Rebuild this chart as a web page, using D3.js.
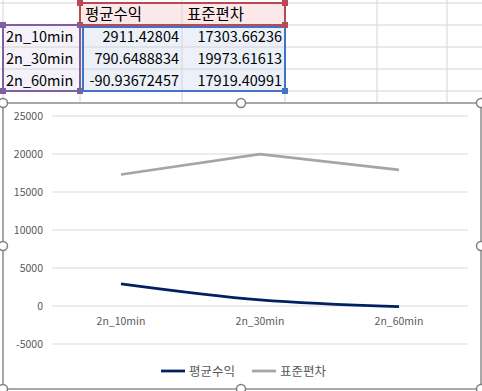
<!DOCTYPE html>
<html>
<head>
<meta charset="utf-8">
<script src="https://cdn.jsdelivr.net/npm/d3@7"></script>
<style>
  body { margin: 0; background: #fff; }
  svg { display: block; }
</style>
</head>
<body>
<svg id="chart"></svg>
<script>
// data
const categories = ["2n_10min", "2n_30min", "2n_60min"];
const seriesNames = ["평균수익", "표준편차"];
const meanReturn = [2911.42804, 790.6488834, -90.93672457];
const stdDev = [17303.66236, 19973.61613, 17919.40991];
const meanText = ["2911.42804", "790.6488834", "-90.93672457"];
const stdText = ["17303.66236", "19973.61613", "17919.40991"];
const yTicks = [-5000, 0, 5000, 10000, 15000, 20000, 25000];
const seriesColors = ["#002060", "#a5a5a5"];

const width = 482;
const height = 391;
const font = "'Noto Sans CJK KR', 'Noto Sans', sans-serif";

const svg = d3.select("#chart")
              .attr("width", width)
              .attr("height", height);

// --- spreadsheet part ---
const sheet = svg.append("g");
const rowY = [3, 25, 47, 69, 91];
const colX = [3, 80, 182, 285, 377, 447];

// cell fills
sheet.append("rect").attr("x", 80).attr("y", 3).attr("width", 205).attr("height", 22).attr("fill", "#fbe9e9");
sheet.append("rect").attr("x", 80).attr("y", 25).attr("width", 205).attr("height", 66).attr("fill", "#ebf0f9");
sheet.append("rect").attr("x", 3).attr("y", 25).attr("width", 77).attr("height", 66).attr("fill", "#f5f2f9");

// sheet grid
rowY.forEach(y => {
  sheet.append("line").attr("x1", 0).attr("x2", width).attr("y1", y).attr("y2", y)
       .attr("stroke", "#d4d4d4").attr("stroke-width", 1);
});
colX.forEach(x => {
  sheet.append("line").attr("x1", x).attr("x2", x).attr("y1", 0).attr("y2", 103)
       .attr("stroke", "#d4d4d4").attr("stroke-width", 1);
});

// header texts
seriesNames.forEach((s, i) => {
  sheet.append("text")
       .attr("x", colX[i + 1] + 5).attr("y", 20)
       .style("font-family", font).style("font-size", "15.5px").style("fill", "#000")
       .text(s);
});
categories.forEach((c, i) => {
  sheet.append("text")
       .attr("x", 6).attr("y", rowY[i + 1] + 17)
       .style("font-family", font).style("font-size", "14.5px").style("fill", "#000")
       .text(c);
  sheet.append("text")
       .attr("x", 179).attr("y", rowY[i + 1] + 17).attr("text-anchor", "end")
       .style("font-family", font).style("font-size", "14.5px").style("fill", "#000")
       .text(meanText[i]);
  sheet.append("text")
       .attr("x", 282).attr("y", rowY[i + 1] + 17).attr("text-anchor", "end")
       .style("font-family", font).style("font-size", "14.5px").style("fill", "#000")
       .text(stdText[i]);
});

// selection boxes (range highlight from chart)
function rangeBox(x0, y0, x1, y1, color, corners) {
  sheet.append("rect").attr("x", x0).attr("y", y0).attr("width", x1 - x0).attr("height", y1 - y0)
       .attr("fill", "none").attr("stroke", color).attr("stroke-width", 2);
  corners.forEach(([cx, cy]) => {
    sheet.append("rect").attr("x", cx - 3).attr("y", cy - 3).attr("width", 6).attr("height", 6)
         .attr("fill", color);
  });
}
rangeBox(3, 25, 80, 91, "#7e60a0", [[3, 25], [80, 25], [3, 91], [80, 91]]);
rangeBox(83, 27, 285, 91, "#4472c4", [[285, 91]]);
rangeBox(80, 3, 285, 25, "#b84a55", [[80, 3], [285, 3], [285, 25]]);

// --- chart part ---
const chart = svg.append("g");
const cx0 = 3, cy0 = 103, cx1 = 481, cy1 = 389;
chart.append("rect").attr("x", cx0).attr("y", cy0).attr("width", cx1 - cx0).attr("height", cy1 - cy0)
     .attr("fill", "#fff").attr("stroke", "#8c8c8c").attr("stroke-width", 1.5);

const x = d3.scalePoint().domain(categories).range([121, 399]);
const y = d3.scaleLinear().domain([-5000, 25000]).range([344, 116]);

// gridlines
chart.append("g").selectAll("line").data(yTicks).join("line")
     .attr("x1", 52).attr("x2", 468)
     .attr("y1", d => y(d)).attr("y2", d => y(d))
     .attr("stroke", "#d9d9d9").attr("stroke-width", 1);

// y axis labels
chart.append("g").selectAll("text").data(yTicks).join("text")
     .attr("x", 43).attr("y", d => y(d) + 3.5).attr("text-anchor", "end")
     .style("font-family", font).style("font-size", "10.5px").style("fill", "#595959")
     .text(d => d);

// x axis labels
chart.append("g").selectAll("text").data(categories).join("text")
     .attr("x", d => x(d)).attr("y", y(0) + 19).attr("text-anchor", "middle")
     .style("font-family", font).style("font-size", "10.5px").style("fill", "#595959")
     .text(d => d);

// lines
const lineStd = d3.line().x((d, i) => x(categories[i])).y(d => y(d));
const lineMean = d3.line().x((d, i) => x(categories[i])).y(d => y(d)).curve(d3.curveCatmullRom.alpha(0.5));

chart.append("path").datum(stdDev).attr("d", lineStd)
     .attr("fill", "none").attr("stroke", seriesColors[1]).attr("stroke-width", 2.75);
chart.append("path").datum(meanReturn).attr("d", lineMean)
     .attr("fill", "none").attr("stroke", seriesColors[0]).attr("stroke-width", 2.75);

// legend
const legendItems = [{ x: 161, name: seriesNames[0], color: seriesColors[0] },
                     { x: 252, name: seriesNames[1], color: seriesColors[1] }];
const legend = chart.append("g");
legendItems.forEach(it => {
  legend.append("line").attr("x1", it.x).attr("x2", it.x + 24).attr("y1", 371).attr("y2", 371)
        .attr("stroke", it.color).attr("stroke-width", 2.75);
  legend.append("text").attr("x", it.x + 28).attr("y", 375.5)
        .style("font-family", font).style("font-size", "12.5px").style("fill", "#595959")
        .text(it.name);
});

// selection handles
const handles = [[cx0, cy0], [241, cy0], [cx1, cy0], [cx0, 246], [cx1, 246], [cx0, cy1], [241, cy1], [cx1, cy1]];
chart.append("g").selectAll("circle").data(handles).join("circle")
     .attr("cx", d => d[0]).attr("cy", d => d[1]).attr("r", 4.5)
     .attr("fill", "#fff").attr("stroke", "#7f7f7f").attr("stroke-width", 1.5);
</script>
</body>
</html>
